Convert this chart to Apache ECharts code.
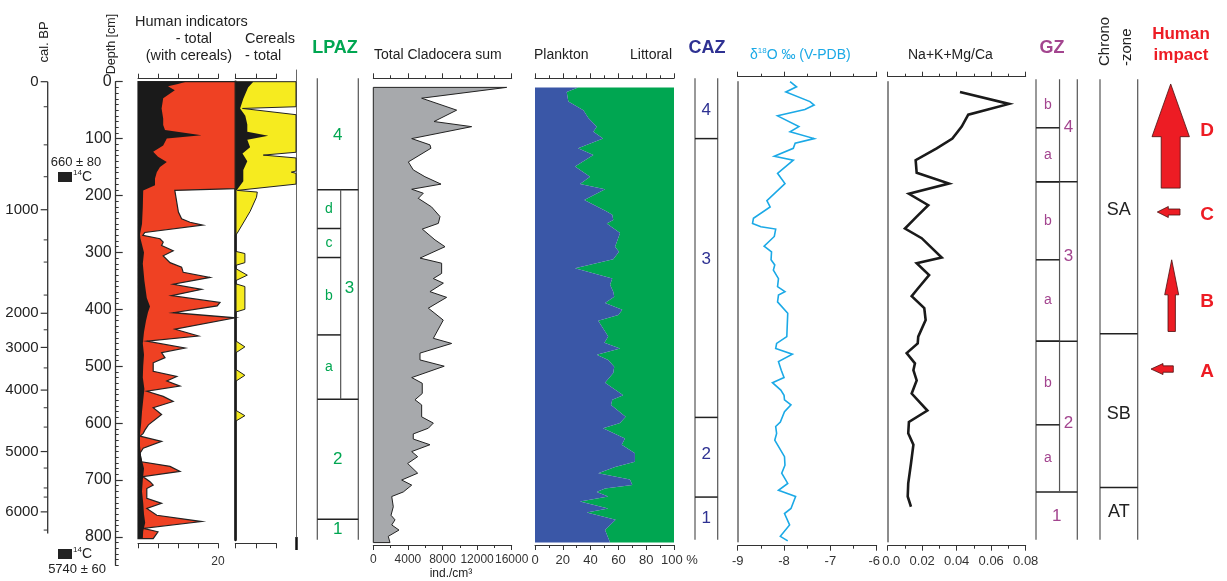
<!DOCTYPE html>
<html><head><meta charset="utf-8">
<script src="https://cdn.jsdelivr.net/npm/echarts@6/dist/echarts.min.js"></script>
<style>html,body{margin:0;padding:0;background:#fff}#c{width:1227px;height:581px}</style>
</head><body><div id="c"></div>
<script>
// ---------------- DATA ----------------
const calAges = [0, 1000, 2000, 3000, 4000, 5000, 6000];
const calAgeDepths = [0, 225, 407, 467, 542, 650, 756];
const calMinorDepths = [44, 111, 167, 278, 317, 375, 436, 503, 573, 607, 679, 714, 730, 788];
const calAxisEnd = 794;

const humanTotalDepth = [0,188,191,229,241,247,252,265,270,276,282,288,297,306,318,326,335,344,356,365,376,388,394,406,415,435,447,456,468,476,485,494,509,518,526,535,544,553,562,573,585,603,612,618,623,632,644,653,668,676,685,694,703,709,715,732,741,750,762,773,785,791,803];
const humanTotal = [26,26,9.2,10.1,10.9,13,16.2,1.7,1.2,5.5,6.3,5.9,8.8,6.3,8,10.9,11.3,18,8.8,15.9,8.4,20.5,19.8,8.8,25,9.25,15.1,2.2,11.75,5.9,6.75,3.8,3.8,9.7,7.2,10.5,2.2,6.3,8.8,3.8,5.9,2.6,1.75,1.3,0.5,5.9,1.3,0.5,0.9,8,10.5,1.2,3,3.8,2.2,2.2,5.9,2.2,4.7,15.9,1.3,5,3.8];

const humanBlackDepth = [0,4,8,15,29,47,65,76,85,94,100,112,123,132,141,150,159,170,182,191,220,250,268,275,300,320,350,380,395,405,420,440,460,480,500,520,540,560,580,600,620,640,660,680,700,720,740,760,775,790,803];
const humanBlack = [12,10,7.5,9.2,6.3,5.9,6.3,6.3,6.75,15.9,7.2,6.3,3.8,5,7.2,5.5,4.7,4.25,4.25,1.3,1.2,1,0.5,0.6,1.5,1.2,1.6,2.2,3,2.5,2,1.5,1.2,1.5,1.3,1.2,1.6,1.3,1,0.8,0.5,0.5,0.8,1.5,1.2,1,1.3,1.5,1.8,1.3,1.2];

const cerealDepth = [0,44,47,58,124,129,134,157,159,161,180,191,194,203,228,266,270,298,302,318,323,328,340,350,355,360,400,405,455,466,477,505,516,527,577,587,597,805];
const cerealTotal = [17,17,1.8,17,17,7,17,17,14,17,17,0.5,5.5,5.3,3.7,0.5,0,0,2.4,2.4,0,0,3,0,0,2.4,2.4,0,0,2.4,0,0,2.4,0,0,2.4,0,0];
const cerealBlackDepth = [0,10,30,47,60,75,88,95,102,115,126,140,155,175,191,805];
const cerealBlack = [4.5,3.2,2,1.2,2.5,3,3,8.25,3,3.7,1.8,3,2,2,0.3,0.3];

const cladoDepth = [10,29,50,70,79,100,111,117,141,155,167,180,189,196,205,220,237,249,259,278,290,310,319,337,346,354,369,379,398,419,451,460,477,489,500,520,530,548,559,568,589,600,609,619,628,638,650,659,671,688,700,709,721,729,747,762,770,779,788,799,810];
const cladoSum = [15420,5590,9640,7020,11370,4440,6550,6660,4050,4620,5970,7830,4440,5780,5200,6730,7710,7520,5660,7130,8290,5400,7900,7900,6940,8100,6550,8480,6360,8090,6940,9060,5400,5400,8200,4440,5660,5660,4820,5590,5590,6940,6360,4620,4620,6550,4440,5130,3970,5130,3280,4440,3470,2130,2310,2050,2510,2130,2970,1730,1930];

const planktonDepth = [10,18,35,50,64,79,88,100,117,129,149,167,180,189,208,228,234,243,249,266,290,299,312,328,346,357,369,378,389,401,410,420,448,459,469,480,489,501,512,529,551,559,568,589,600,609,627,638,653,668,677,688,699,709,715,721,729,738,750,757,770,788,810];
const plankton = [31,22.8,24,34.8,38.4,44.4,42,49,31,42,28.8,39.6,32.4,50.4,35.5,51.6,55.6,56.3,51.6,61.2,57.6,60.4,56.3,28.8,55.6,54,56.3,57,50.4,62.8,60,45.5,52.7,49.9,61.2,44.4,52.7,57,56.3,50.4,63.5,55.6,54.7,65.2,61.2,49,64.7,62.4,71.9,71.9,57.6,45.5,68.3,70,50.4,44.4,52.7,32.4,52.7,37.2,58,50.4,54];

const d18oDepth = [0,9,18,35,41,49,60,79,88,100,108,117,131,138,161,179,209,220,240,249,255,259,272,289,299,313,322,331,346,360,369,375,387,407,448,460,469,479,492,507,520,529,542,551,559,568,580,598,606,618,630,659,674,688,706,718,729,750,759,779,799,807];
const d18o = [-7.87,-7.73,-7.96,-7.44,-7.35,-7.55,-8.14,-7.68,-7.87,-7.35,-7.76,-7.8,-8.21,-7.8,-8.14,-7.98,-8.37,-8.3,-8.66,-8.68,-8.5,-8.18,-8.21,-8.43,-8.27,-8.28,-8.2,-8.23,-8.12,-8.14,-7.98,-8.12,-8.14,-7.92,-7.94,-8.16,-8.18,-7.82,-8.12,-8.06,-8.0,-8.25,-8.07,-8.0,-7.99,-7.85,-7.99,-8.08,-8.18,-8.16,-8.2,-7.99,-7.98,-8.05,-7.92,-8.12,-7.75,-7.85,-7.99,-7.88,-8.08,-7.92];

const naDepth = [18,39,58,79,100,117,138,160,179,197,217,237,258,275,309,319,340,366,377,398,419,448,460,477,495,507,525,548,578,598,618,638,671,706,729,747];
const naRatio = [0.0419,0.0703,0.0467,0.0429,0.0375,0.0284,0.0162,0.0168,0.0355,0.0123,0.0235,0.0168,0.010,0.0197,0.0313,0.0168,0.024,0.0168,0.0139,0.0212,0.022,0.0177,0.0174,0.011,0.0158,0.0149,0.0168,0.0139,0.023,0.0123,0.0119,0.0149,0.0135,0.0119,0.0116,0.0135];

const lpazZones = ['4', '3', '2', '1'];
const lpazBounds = [0, 190, 558, 769, 805];
const lpazLabelDepths = [95, 363, 663, 787];
const lpazSubZones = ['d', 'c', 'b', 'a'];
const lpazSubBounds = [190, 258, 309, 445, 558];

const cazZones = ['4', '3', '2', '1'];
const cazBounds = [0, 100, 590, 730, 805];
const cazLabelDepths = [50, 313, 655, 767];

const gzZones = ['4', '3', '2', '1'];
const gzBounds = [0, 176, 456, 721, 805];
const gzLabelDepths = [81, 306, 600, 763];
const gzSubZones = ['b', 'a', 'b', 'a', 'b', 'a'];
const gzSubBounds = [0, 81, 176, 313, 456, 603, 721];

const chronoZones = ['SA', 'SB', 'AT'];
const chronoBounds = [0, 443, 713, 805];
const chronoLabelDepths = [226, 584, 756];

const impactLabels = ['D', 'C', 'B', 'A'];
const impactTopDepth = [4, 229, 313, 505];
const impactBottomDepth = [187, 229, 439, 505];
const impactLabelDepth = [87, 234, 387, 510];

// ---------------- LAYOUT / STYLE ----------------
const FONT = 'Liberation Sans, Arial, sans-serif';
const Y0 = 81.7, K = 0.569;             // pixel row of depth 0 and px per cm
const dY = px => (px - Y0) / K;
const AX = '#333';
const C = {red:'#ef4123', yellow:'#f6eb1f', gray:'#a7a9ac', blue:'#3a57a7', green:'#00a651',
           lpaz:'#00a651', caz:'#2e3192', gz:'#a3458f', d18o:'#1ba9e6', impact:'#ed1c24'};
const arrowStyle = {
  D:{dir:'up', cx:25.7, head:52.7, headHalf:18.7, shaftHalf:9.5},
  B:{dir:'up', cx:26.7, head:35, headHalf:7, shaftHalf:3.7},
  C:{dir:'left', tip:12.3, tail:35, head:11, headHalf:5.5, shaftHalf:3},
  A:{dir:'left', tip:6, tail:28.3, head:12, headHalf:5.5, shaftHalf:3.2}
};

const grids = [], xAxes = [], yAxes = [], series = [];
function addGrid(left, top, width, bottom, xa, ya) {
  const gi = grids.length;
  grids.push({left: left, top: top, width: width, height: bottom - top, outerBoundsMode: 'none', containLabel: false});
  const base = {gridIndex: gi, type: 'value', show: false, splitLine: {show: false}};
  const xs = (xa || [{min: 0, max: 1}]).map(a => { xAxes.push(Object.assign({}, base, a)); return xAxes.length - 1; });
  const ys = (ya || [{}]).map(a => { yAxes.push(Object.assign({}, base, {inverse: true, min: dY(top), max: dY(bottom)}, a)); return yAxes.length - 1; });
  return {x: xs, y: ys};
}
function tickAxis(pos, min, max, interval, extra) {
  return Object.assign({show: true, position: pos, min: min, max: max, interval: interval,
    axisLine: {show: true, onZero: false, lineStyle: {color: AX, width: 1}},
    axisTick: {show: true, length: 5, lineStyle: {color: AX, width: 1}},
    minorTick: {show: false},
    axisLabel: {show: false}, splitLine: {show: false}}, extra || {});
}
const minor2 = {show: true, splitNumber: 2, length: 3, lineStyle: {color: AX, width: 1}};
function lab(fmt, rich, size) {
  return {show: true, fontSize: size || 13, color: '#333', fontFamily: FONT, margin: 9, hideOverlap: false,
    showMinLabel: true, showMaxLabel: true, formatter: fmt || (v => String(v)), rich: rich};
}

function areaProfile(g, depths, values, base, fill, stroke, lw) {
  series.push({type: 'custom', xAxisIndex: g.x[0], yAxisIndex: g.y[0], silent: true, animation: false,
    data: depths.map((d, i) => [values[i], d]),
    renderItem: function (params, api) {
      if (params.dataIndex !== 0) return null;
      const cs = params.coordSys;
      const cx = x => Math.max(cs.x, Math.min(cs.x + cs.width, x));
      const pts = depths.map((d, i) => { const p = api.coord([values[i], d]); return [cx(p[0]), p[1]]; });
      const b0 = api.coord([base, depths[0]]), b1 = api.coord([base, depths[depths.length - 1]]);
      const poly = [[cx(b0[0]), b0[1]]].concat(pts, [[cx(b1[0]), b1[1]]]);
      return {type: 'polygon', shape: {points: poly}, style: {fill: fill, stroke: stroke || 'none', lineWidth: lw || 0, lineJoin: 'miter'}};
    }});
}
function lineProfile(g, depths, values, color, width) {
  series.push({type: 'line', xAxisIndex: g.x[0], yAxisIndex: g.y[0], silent: true, animation: false,
    data: depths.map((d, i) => [values[i], d]), symbol: 'none', showSymbol: false,
    lineStyle: {color: color, width: width, join: 'miter'}});
}
function zonePanel(g, cfg) {
  series.push({type: 'custom', xAxisIndex: g.x[0], yAxisIndex: g.y[0], silent: true, animation: false, data: [[0, 0]],
    renderItem: function (params, api) {
      const cs = params.coordSys, L = cs.x, R = cs.x + cs.width, T = cs.y, B = cs.y + cs.height;
      const yy = d => (d <= cfg.bounds[0] ? T : api.coord([0, d])[1]);
      const ch = [];
      const vS = {stroke: '#555', lineWidth: 1.2}, hS = {stroke: '#222', lineWidth: 1.5};
      const line = (x1, y1, x2, y2, st) => ch.push({type: 'line', shape: {x1: x1, y1: y1, x2: x2, y2: y2}, style: st});
      const text = (t, x, y, col, size) => ch.push({type: 'text', x: x, y: y, style: {text: t, fill: col, fontSize: size, fontFamily: FONT, align: 'center', verticalAlign: 'middle'}});
      line(L, T, L, B, vS); line(R, T, R, B, vS);
      cfg.bounds.slice(1, -1).forEach(d => line(L, yy(d), R, yy(d), hS));
      let xm = null, s0 = 0, s1 = 0;
      if (cfg.subBounds) {
        xm = L + cs.width * 0.57; s0 = cfg.subBounds[0]; s1 = cfg.subBounds[cfg.subBounds.length - 1];
        line(xm, yy(s0), xm, yy(s1), vS);
        cfg.subBounds.slice(1, -1).forEach(d => line(L, yy(d), xm, yy(d), hS));
        cfg.subNames.forEach((n, i) => text(n, (L + xm) / 2, api.coord([0, (cfg.subBounds[i] + cfg.subBounds[i + 1]) / 2])[1], cfg.color, cfg.subSize));
      }
      cfg.names.forEach((n, i) => {
        const hasSub = xm !== null && cfg.bounds[i] >= s0 && cfg.bounds[i + 1] <= s1;
        text(n, hasSub ? (xm + R) / 2 : (L + R) / 2, api.coord([0, cfg.labelDepths[i]])[1], cfg.color, cfg.size);
      });
      return {type: 'group', children: ch};
    }});
}

// ---------------- GRIDS ----------------
// cal. BP axis
const gCal = addGrid(47.7, Y0, 1, Y0 + K * calAxisEnd);
series.push({type: 'custom', xAxisIndex: gCal.x[0], yAxisIndex: gCal.y[0], silent: true, animation: false, data: [[0, 0]],
  renderItem: function (params, api) {
    const x = params.coordSys.x, ch = [];
    const y = d => api.coord([0, d])[1];
    ch.push({type: 'line', shape: {x1: x, y1: y(0), x2: x, y2: y(calAxisEnd)}, style: {stroke: '#333', lineWidth: 1.3}});
    calAgeDepths.forEach((d, i) => {
      ch.push({type: 'line', shape: {x1: x - 7, y1: y(d), x2: x, y2: y(d)}, style: {stroke: '#333', lineWidth: 1.2}});
      ch.push({type: 'text', x: x - 9, y: y(d), style: {text: String(calAges[i]), fill: '#222', fontSize: 15, fontFamily: FONT, align: 'right', verticalAlign: 'middle'}});
    });
    calMinorDepths.forEach(d => ch.push({type: 'line', shape: {x1: x - 4, y1: y(d), x2: x, y2: y(d)}, style: {stroke: '#333', lineWidth: 1}}));
    return {type: 'group', children: ch};
  }});

// depth axis (minor ticks + line) and major ticks/labels
addGrid(115.7, Y0, 1, Y0 + K * 850, null, [{show: true, position: 'left', min: 0, max: 850, interval: 10,
  axisLine: {show: true, onZero: false, lineStyle: {color: '#333', width: 1.3}},
  axisTick: {show: true, inside: true, length: 3, lineStyle: {color: '#333', width: 1}}, axisLabel: {show: false}}]);
addGrid(115.7, Y0, 1, Y0 + K * 800, null, [{show: true, position: 'left', min: 0, max: 800, interval: 100,
  axisLine: {show: false},
  axisTick: {show: true, inside: true, length: 7, lineStyle: {color: '#333', width: 1.2}},
  axisLabel: {show: true, fontSize: 16, color: '#222', fontFamily: FONT, margin: 4, formatter: v => String(v)}}]);

// Human indicators
const gHum = addGrid(138, 79, 97.3, 542, [{min: 0, max: 24.325}]);
areaProfile(gHum, humanTotalDepth, humanTotal, 0, C.red, '#222', 1.2);
areaProfile(gHum, humanBlackDepth, humanBlack, 0, '#1a1a1a', 'none', 0);
addGrid(138, 78.7, 80, 543.3, [tickAxis('top', 0, 20, 5), tickAxis('bottom', 0, 20, 5, {axisLabel: Object.assign(lab(v => v === 20 ? '20' : ''), {fontSize: 12, margin: 12})})]);

// Cereals
const gCer = addGrid(235.3, Y0, 60.7, 540, [{min: 0, max: 15.175}], [{show: true, position: 'left',
  axisLine: {show: true, onZero: false, lineStyle: {color: '#111', width: 2.5}}, axisTick: {show: false}, axisLabel: {show: false}}]);
areaProfile(gCer, cerealDepth, cerealTotal, 0, C.yellow, '#222', 1);
areaProfile(gCer, cerealBlackDepth, cerealBlack, 0, '#1a1a1a', 'none', 0);
addGrid(235.3, 78.7, 41, 543.3, [tickAxis('top', 0, 10, 5), tickAxis('bottom', 0, 10, 5)]);
addGrid(296, 70, 1, 537, null, [{show: true, position: 'left', axisLine: {show: true, onZero: false, lineStyle: {color: '#666', width: 1}}, axisTick: {show: false}, axisLabel: {show: false}}]);

// LPAZ
const gLpaz = addGrid(317.3, 78.3, 41, Y0 + K * 805);
zonePanel(gLpaz, {names: lpazZones, bounds: lpazBounds, labelDepths: lpazLabelDepths, subNames: lpazSubZones, subBounds: lpazSubBounds, color: C.lpaz, size: 17, subSize: 14});

// Cladocera
const gCla = addGrid(373.3, 78.3, 138.4, 545, [
  tickAxis('bottom', 0, 16000, 4000, {minorTick: minor2, axisLabel: lab(null, null, 12)}),
  tickAxis('top', 0, 16000, 4000, {minorTick: minor2})]);
areaProfile(gCla, cladoDepth, cladoSum, 0, C.gray, '#222', 1);

// Plankton / Littoral
const gPl = addGrid(535, 78.3, 139, 545, [
  tickAxis('bottom', 0, 100, 20, {minorTick: minor2, axisLabel: lab(v => v === 100 ? '{p|100 %}' : String(v), {p: {fontSize: 13, color: '#333', fontFamily: FONT, padding: [0, 0, 0, 11]}})}),
  tickAxis('top', 0, 100, 20, {minorTick: minor2})]);
areaProfile(gPl, planktonDepth, plankton, 100, C.green, 'none', 0);
areaProfile(gPl, planktonDepth, plankton, 0, C.blue, 'none', 0);

// CAZ
const gCaz = addGrid(695, 78.3, 22.7, Y0 + K * 805);
zonePanel(gCaz, {names: cazZones, bounds: cazBounds, labelDepths: cazLabelDepths, color: C.caz, size: 17});

// d18O
const gO = addGrid(737.7, 76.7, 139, 545.7, [
  tickAxis('bottom', -9, -6, 1, {minorTick: minor2, axisLabel: lab(v => v === -6 ? '{r|-6}' : String(v), {r: {fontSize: 13, color: '#333', fontFamily: FONT, padding: [0, 5, 0, 0]}})}),
  tickAxis('top', -9, -6, 1, {minorTick: minor2})]);
addGrid(737.7, Y0, 1, 541.7, null, [{show: true, position: 'left', axisLine: {show: true, onZero: false, lineStyle: {color: '#666', width: 1.5}}, axisTick: {show: false}, axisLabel: {show: false}}]);
lineProfile(gO, d18oDepth, d18o, C.d18o, 1.6);

// Na+K+Mg/Ca
const gNa = addGrid(887.7, 76.7, 138, 545.7, [
  tickAxis('bottom', 0, 0.08, 0.02, {minorTick: minor2, axisLabel: lab(v => v === 0 ? '{l|0.0}' : v.toFixed(2), {l: {fontSize: 13, color: '#333', fontFamily: FONT, padding: [0, 0, 0, 7]}})}),
  tickAxis('top', 0, 0.08, 0.02, {minorTick: minor2})]);
addGrid(887.7, Y0, 1, 541.7, null, [{show: true, position: 'left', axisLine: {show: true, onZero: false, lineStyle: {color: '#666', width: 1.5}}, axisTick: {show: false}, axisLabel: {show: false}}]);
lineProfile(gNa, naDepth, naRatio, '#1a1a1a', 2.6);

// GZ
const gGz = addGrid(1036, 79.3, 41.3, Y0 + K * 805);
zonePanel(gGz, {names: gzZones, bounds: gzBounds, labelDepths: gzLabelDepths, subNames: gzSubZones, subBounds: gzSubBounds, color: C.gz, size: 17, subSize: 14});

// Chronozones
const gCh = addGrid(1100, 79.3, 37.7, Y0 + K * 805);
zonePanel(gCh, {names: chronoZones, bounds: chronoBounds, labelDepths: chronoLabelDepths, color: '#222', size: 18});

// Human impact arrows
const gImp = addGrid(1145, 79.3, 75, Y0 + K * 805);
series.push({type: 'custom', xAxisIndex: gImp.x[0], yAxisIndex: gImp.y[0], silent: true, animation: false,
  data: impactLabels.map((n, i) => [0, impactTopDepth[i]]),
  renderItem: function (params, api) {
    const i = params.dataIndex, n = impactLabels[i], s = arrowStyle[n];
    const L = params.coordSys.x;
    const y = d => api.coord([0, d])[1];
    let pts;
    if (s.dir === 'up') {
      const cx = L + s.cx, t = y(impactTopDepth[i]), b = y(impactBottomDepth[i]), h = t + s.head;
      pts = [[cx, t], [cx + s.headHalf, h], [cx + s.shaftHalf, h], [cx + s.shaftHalf, b], [cx - s.shaftHalf, b], [cx - s.shaftHalf, h], [cx - s.headHalf, h]];
    } else {
      const yc = y(impactTopDepth[i]), tip = L + s.tip, hx = tip + s.head, tail = L + s.tail;
      pts = [[tip, yc], [hx, yc - s.headHalf], [hx, yc - s.shaftHalf], [tail, yc - s.shaftHalf], [tail, yc + s.shaftHalf], [hx, yc + s.shaftHalf], [hx, yc + s.headHalf]];
    }
    return {type: 'group', children: [
      {type: 'polygon', shape: {points: pts}, style: {fill: C.impact, stroke: '#4a1010', lineWidth: 0.8}},
      {type: 'text', x: L + 62, y: y(impactLabelDepth[i]), style: {text: n, fill: C.impact, fontSize: 19, fontWeight: 'bold', fontFamily: FONT, align: 'center', verticalAlign: 'middle'}}
    ]};
  }});

// ---------------- TEXT ----------------
function T(text, x, y, o) {
  o = o || {};
  return {type: 'text', x: x, y: y, rotation: o.rot || 0, silent: true,
    style: {text: text, fill: o.color || '#222', fontSize: o.size || 14, fontWeight: o.bold ? 'bold' : 'normal', fontFamily: FONT,
      align: o.align || 'left', verticalAlign: 'middle', rich: o.rich}};
}
const sup = {a: {fontSize: 14, fontFamily: FONT, fill: '#222'}, s: {fontSize: 8, fontFamily: FONT, fill: '#222', padding: [0, 0, 8, 0]}};
const graphic = [
  T('cal. BP', 44, 42, {rot: Math.PI / 2, align: 'center', size: 13}),
  T('Depth [cm]', 112, 44, {rot: Math.PI / 2, align: 'center', size: 12.5}),
  T('Human indicators', 135, 22, {size: 14.5}),
  T('- total', 212, 39, {align: 'right', size: 14.5}),
  T('(with cereals)', 232, 56, {align: 'right', size: 14.5}),
  T('Cereals', 245, 39, {size: 14.5}),
  T('- total', 245, 56, {size: 14.5}),
  T('LPAZ', 335, 48, {align: 'center', bold: true, size: 18, color: C.lpaz}),
  T('Total Cladocera sum', 374, 55),
  T('Plankton', 534, 55),
  T('Littoral', 672, 55, {align: 'right'}),
  T('CAZ', 707, 48, {align: 'center', bold: true, size: 18, color: C.caz}),
  {type: 'text', x: 750, y: 55, silent: true, style: {text: '{a|δ}{s|18}{a|O ‰ (V-PDB)}', verticalAlign: 'middle', align: 'left',
    rich: {a: {fontSize: 14, fontFamily: FONT, fill: C.d18o}, s: {fontSize: 8, fontFamily: FONT, fill: C.d18o, padding: [0, 0, 8, 0]}}}},
  T('Na+K+Mg/Ca', 908, 55),
  T('GZ', 1052, 48, {align: 'center', bold: true, size: 18, color: C.gz}),
  T('Chrono', 1105, 66, {rot: Math.PI / 2, size: 15}),
  T('-zone', 1126.5, 66, {rot: Math.PI / 2, size: 15}),
  T('Human', 1181, 34, {align: 'center', bold: true, size: 17, color: C.impact}),
  T('impact', 1181, 55, {align: 'center', bold: true, size: 17, color: C.impact}),
  T('660 ± 80', 76, 162.5, {align: 'center', size: 13}),
  {type: 'rect', silent: true, shape: {x: 58, y: 172, width: 14, height: 10}, style: {fill: '#222'}},
  {type: 'text', x: 73, y: 177, silent: true, style: {text: '{s|14}{a|C}', verticalAlign: 'middle', rich: sup}},
  {type: 'rect', silent: true, shape: {x: 58, y: 549, width: 14, height: 10}, style: {fill: '#222'}},
  {type: 'text', x: 73, y: 554, silent: true, style: {text: '{s|14}{a|C}', verticalAlign: 'middle', rich: sup}},
  T('5740 ± 60', 77, 569, {align: 'center', size: 13}),
  T('ind./cm³', 451, 574, {align: 'center', size: 12}),
  {type: 'line', silent: true, shape: {x1: 296.5, y1: 537, x2: 296.5, y2: 550}, style: {stroke: '#111', lineWidth: 2.5}}
];

const chart = echarts.init(document.getElementById('c'), null, {renderer: 'canvas'});
chart.setOption({animation: false, backgroundColor: '#fff', grid: grids, xAxis: xAxes, yAxis: yAxes, series: series, graphic: graphic});
</script>
</body></html>
